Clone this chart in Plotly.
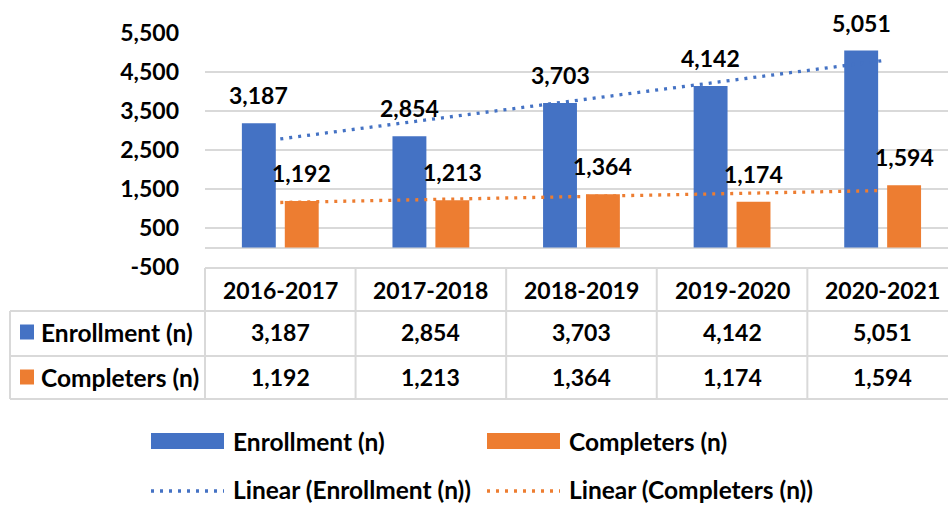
import numpy as np
import plotly.graph_objects as go

# ---------------- data ----------------
CATEGORIES = ["2016-2017", "2017-2018", "2018-2019", "2019-2020", "2020-2021"]
ENROLLMENT = [3187, 2854, 3703, 4142, 5051]
COMPLETERS = [1192, 1213, 1364, 1174, 1594]
SERIES_NAMES = ["Enrollment (n)", "Completers (n)"]
TREND_NAMES = ["Linear (Enrollment (n))", "Linear (Completers (n))"]
Y_TICK_VALUES = [-500, 500, 1500, 2500, 3500, 4500, 5500]
Y_TICK_LABELS = ["-500", "500", "1,500", "2,500", "3,500", "4,500", "5,500"]

# ---------------- style ----------------
BLUE = "#4472C4"
ORANGE = "#ED7D31"
GRID = "#D9D9D9"
FONT = "Lato, Carlito, 'Open Sans', sans-serif"
FS = 23        # numbers / years
FS_TXT = 24.5  # word labels
W, H = 948, 506
PLOT_L, PLOT_R, PLOT_T, PLOT_B = 205, 948, 33, 267   # plot-area pixel box
X_RANGE = [-0.5, 4.434]
Y_RANGE = [-500, 5500]
BARGAP, BARGROUPGAP = 0.43, 0.21
DOT = "3px,6px"
DOT_W = 3.3

def px(p):   # pixel x -> paper
    return (p - PLOT_L) / (PLOT_R - PLOT_L)

def py(p):   # pixel y -> paper
    return (PLOT_B - p) / (PLOT_B - PLOT_T)

def xdata_to_paper(v):
    return (v - X_RANGE[0]) / (X_RANGE[1] - X_RANGE[0])

def fmt(v):
    return f"{v:,}"

xs = np.arange(len(CATEGORIES))
fig = go.Figure()

series = [(ENROLLMENT, BLUE), (COMPLETERS, ORANGE)]
for (vals, col), name in zip(series, SERIES_NAMES):
    fig.add_trace(go.Bar(x=xs, y=vals, name=name, marker=dict(color=col, line=dict(width=0)),
                         showlegend=False))

# linear trendlines (least squares fit, like Excel)
for (vals, col), name in zip(series, TREND_NAMES):
    coef = np.polyfit(xs, vals, 1)
    tx = np.array([xs[0], xs[-1]])
    fig.add_trace(go.Scatter(x=tx, y=np.polyval(coef, tx), mode="lines", name=name,
                             line=dict(color=col, width=DOT_W, dash=DOT), showlegend=False,
                             hoverinfo="skip"))

annotations = []
shapes = []
nfont = dict(family=FONT, size=FS, color="black", weight="bold")
wfont = dict(family=FONT, size=FS_TXT, color="black", weight="bold")

# data labels above bars
slot = (1 - BARGAP) / len(series)
for si, (vals, col) in enumerate(series):
    off = (si - (len(series) - 1) / 2) * slot
    for i, v in enumerate(vals):
        annotations.append(dict(x=xs[i] + off, y=v, xref="x", yref="y", text=fmt(v),
                                showarrow=False, xanchor="center", yanchor="middle", yshift=28,
                                font=nfont))

# ---------------- data table ----------------
line_style = dict(color=GRID, width=2)
row_lines = [311, 356, 399]
shapes.append(dict(type="line", xref="paper", yref="paper", x0=px(PLOT_L), x1=1,
                   y0=py(268), y1=py(268), line=line_style, layer="below"))
for r in row_lines:
    shapes.append(dict(type="line", xref="paper", yref="paper", x0=px(10), x1=1,
                       y0=py(r), y1=py(r), line=line_style, layer="below"))
for b in np.arange(len(CATEGORIES)) - 0.5:
    shapes.append(dict(type="line", xref="paper", yref="paper",
                       x0=xdata_to_paper(b), x1=xdata_to_paper(b),
                       y0=py(268), y1=py(399), line=line_style, layer="below"))
shapes.append(dict(type="line", xref="paper", yref="paper", x0=px(10), x1=px(10),
                   y0=py(311), y1=py(399), line=line_style, layer="below"))

for i, c in enumerate(CATEGORIES):
    annotations.append(dict(x=xs[i], y=py(290), xref="x", yref="paper", text=c,
                            showarrow=False, xanchor="center", yanchor="middle", font=nfont))
row_y = [332, 377]
for (vals, col), name, ry in zip(series, SERIES_NAMES, row_y):
    for i, v in enumerate(vals):
        annotations.append(dict(x=xs[i], y=py(ry), xref="x", yref="paper", text=fmt(v),
                                showarrow=False, xanchor="center", yanchor="middle",
                                font=nfont))
    shapes.append(dict(type="rect", xref="paper", yref="paper", x0=px(20), x1=px(34),
                       y0=py(ry - 7.5), y1=py(ry + 7.5), fillcolor=col, line=dict(width=0)))
    annotations.append(dict(x=px(39), y=py(ry), xref="paper", yref="paper", text=name,
                            xanchor="left", yanchor="middle", showarrow=False, font=wfont))

# ---------------- legend (manual, Excel style) ----------------
leg_cols = [151, 487]
leg_rows = [441, 489]
KEY_W, TXT_OFF = 73, 80
for (vals, col), name, lx in zip(series, SERIES_NAMES, leg_cols):
    shapes.append(dict(type="rect", xref="paper", yref="paper", x0=px(lx), x1=px(lx + KEY_W),
                       y0=py(leg_rows[0] + 8), y1=py(leg_rows[0] - 8),
                       fillcolor=col, line=dict(width=0)))
    annotations.append(dict(x=px(lx + TXT_OFF), y=py(leg_rows[0]), xref="paper", yref="paper",
                            text=name, xanchor="left", yanchor="middle", showarrow=False,
                            font=wfont))
for (vals, col), name, lx in zip(series, TREND_NAMES, leg_cols):
    shapes.append(dict(type="line", xref="paper", yref="paper", x0=px(lx), x1=px(lx + KEY_W),
                       y0=py(leg_rows[1] + 2), y1=py(leg_rows[1] + 2),
                       line=dict(color=col, width=DOT_W, dash=DOT)))
    annotations.append(dict(x=px(lx + TXT_OFF), y=py(leg_rows[1]), xref="paper", yref="paper",
                            text=name, xanchor="left", yanchor="middle", showarrow=False,
                            font=wfont))

fig.update_layout(
    width=W, height=H,
    margin=dict(l=PLOT_L, r=W - PLOT_R, t=PLOT_T, b=H - PLOT_B, pad=0),
    paper_bgcolor="white", plot_bgcolor="white",
    font=dict(family=FONT, size=FS, color="black", weight="bold"),
    barmode="group", bargap=BARGAP, bargroupgap=BARGROUPGAP,
    showlegend=False,
    annotations=annotations, shapes=shapes,
)
fig.update_xaxes(range=X_RANGE, showticklabels=False, showgrid=False, zeroline=False,
                 showline=False, fixedrange=True)
fig.update_yaxes(range=Y_RANGE, tickvals=Y_TICK_VALUES, ticktext=Y_TICK_LABELS,
                 showgrid=True, gridcolor=GRID, gridwidth=2,
                 zeroline=True, zerolinecolor=GRID, zerolinewidth=2,
                 showline=False, ticks="", ticklabelstandoff=25,
                 tickfont=nfont)

fig.write_html("out.html", config={"displayModeBar": False},
               post_script="document.body.style.margin='0';document.body.style.overflow='hidden';")
